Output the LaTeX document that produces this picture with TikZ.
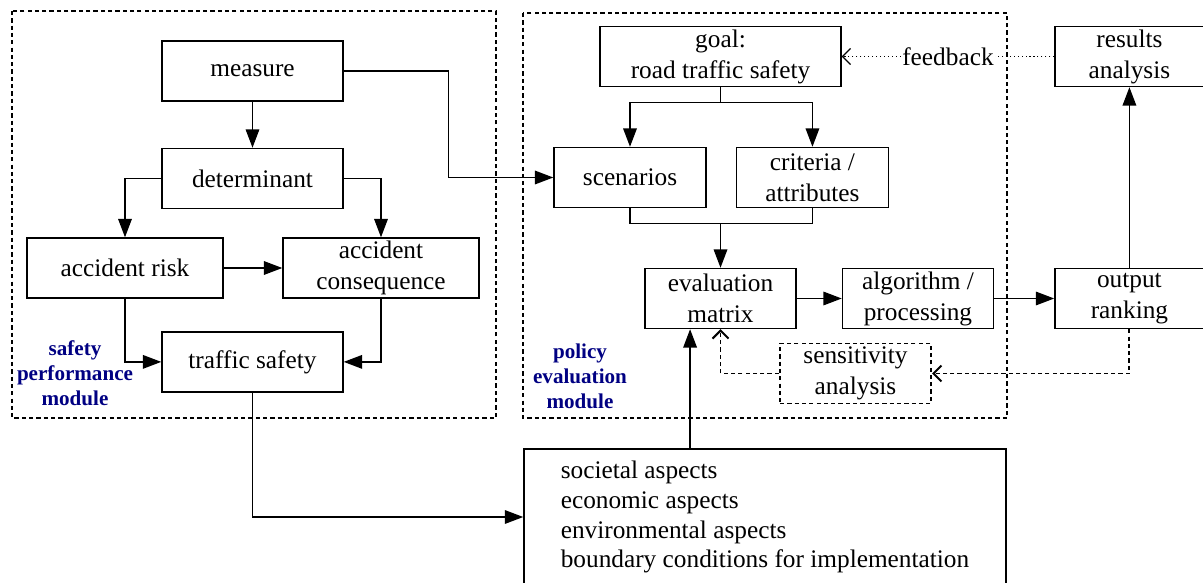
\documentclass[tikz,border=0pt]{standalone}
\usepackage{fontspec}
\setmainfont{Liberation Serif}
\usetikzlibrary{arrows.meta, calc, positioning}
\definecolor{navy}{RGB}{0,0,130}
\tikzstyle{flow}=[x=0.025cm, y=-0.025cm, >={Triangle[length=4.6mm,width=3.4mm]}, line width=1pt, font=\fontsize{18}{22}\selectfont]
\tikzstyle{block}=[draw, rectangle, minimum height=15mm, align=center, inner sep=1pt]
\tikzstyle{frame}=[draw, line width=1.4pt, dash pattern=on 3pt off 2.2pt]
\tikzstyle{module}=[text=navy, font=\fontsize{15}{17.7}\selectfont\bfseries, align=center]
\tikzstyle{back}=[line width=1.4pt, dash pattern=on 3pt off 2.2pt, -{Straight Barb[length=2mm,width=4mm]}]

\begin{document}
\begin{tikzpicture}[flow]
  \useasboundingbox (0,0) rectangle (1203,583);
  % safety performance module
  \node[block,minimum width=45.25mm] (measure) at (252.5,71) {measure};
  \node[block,minimum width=45.25mm] (det) [below=11.5mm of measure] {determinant};
  \node[block,minimum width=49mm] (risk) at (125,268) {accident risk};
  \node[block,minimum width=49mm] (cons) at (381,268) {accident\\consequence};
  \node[block,minimum width=45.25mm] (safety) [below=30.5mm of det] {traffic safety};
  \node[module] (spm) at (75,373) {safety\\performance\\module};
  % policy evaluation module
  \node[block,minimum width=60.25mm] (goal) at (720.5,56.5) {goal:\\road traffic safety};
  \node[block,minimum width=38mm] (scen) at (630,177.5) {scenarios};
  \node[block,minimum width=38mm] (crit) [right=7.25mm of scen] {criteria /\\attributes};
  \node[block,minimum width=37.75mm] (eval) at (720.5,298.5) {evaluation\\matrix};
  \node[block,minimum width=37.75mm] (algo) [right=11.25mm of eval] {algorithm /\\processing};
  \node[block,minimum width=37.25mm] (rank) [right=15mm of algo] {output\\ranking};
  \node[block,minimum width=37.25mm] (results) at (rank |- goal) {results\\analysis};
  \node[block,frame,minimum width=37.75mm] (sens) at (855.5,373.5) {sensitivity\\analysis};
  \node[module] (pem) at (580,376) {policy\\evaluation\\module};
  \node[draw,minimum width=120.5mm,minimum height=34mm,align=left,
        font=\fontsize{18}{21.3}\selectfont] (aspects) at (765,517)
       {societal aspects\\economic aspects\\environmental aspects\\boundary conditions for implementation};
  \draw[frame] (12,11) rectangle (496,418);
  \draw[frame] (523,13) rectangle (1007,418);

  \draw[->] (measure) -- (det);
  \draw[->] (det.west) -| (risk.north);
  \draw[->] (det.east) -| (cons.north);
  \draw[->] (risk) -- (cons);
  \draw[->] (risk.south) |- (safety.west);
  \draw[->] (cons.south) |- (safety.east);
  \draw[->] (measure.east) -| ($(measure.east)!.5!(scen.west)$) |- (scen.west);
  \draw[->] (safety.south) |- (aspects.west);

  \coordinate (g1) at ([yshift=-3.75mm]goal.south);
  \draw (goal.south) -- (g1);
  \draw[->] (g1) -| (scen.north);
  \draw[->] (g1) -| (crit.north);
  \coordinate (j1) at ([yshift=-3.75mm]scen.south);
  \draw (scen.south) -- (j1) -| (crit.south);
  \draw[->] (j1 -| eval.north) -- (eval.north);
  \draw[->] (eval) -- (algo);
  \draw[->] (algo) -- (rank);
  \draw[->] (rank) -- (results);
  \coordinate (e1) at ([xshift=-7.6mm]eval.south);
  \draw[->] (aspects.north -| e1) -- (e1);

  \draw[dotted, line width=0.8pt, -{Straight Barb[length=2mm,width=4mm]}] (results.west)
    -- node[fill=white, inner sep=1pt] {feedback} (goal.east);
  \draw[back] (rank.south) |- (sens.east);
  \draw[back] (sens.west) -| (eval.south);
\end{tikzpicture}
\end{document}
